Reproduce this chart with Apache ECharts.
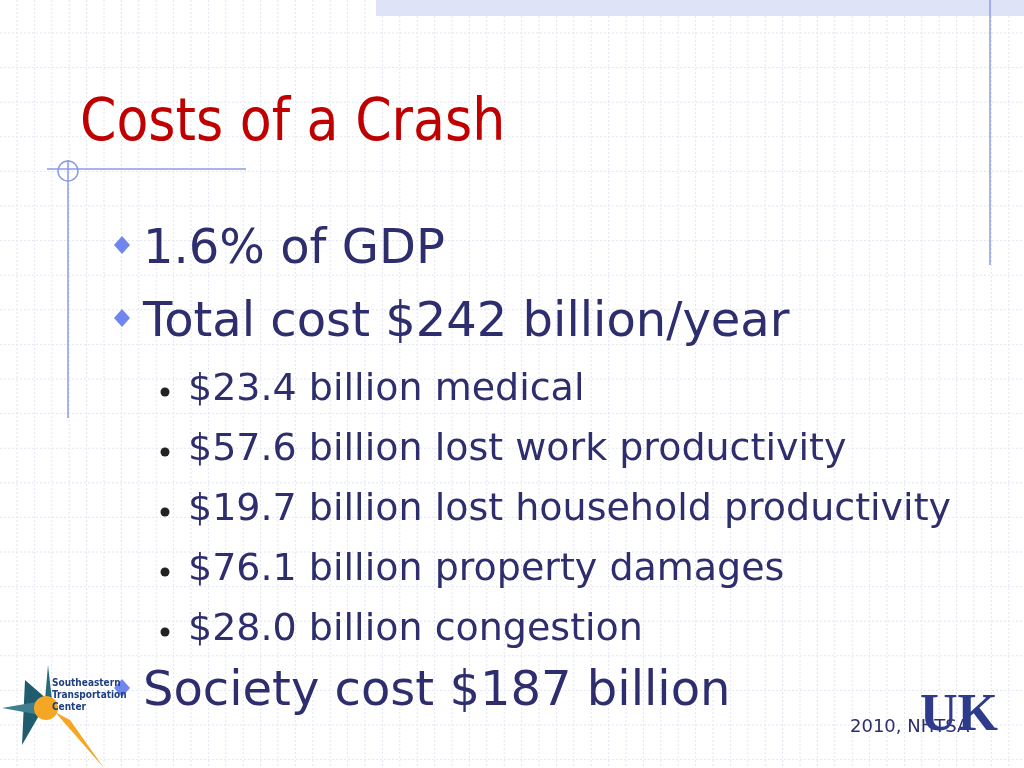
<!DOCTYPE html>
<html><head><meta charset="utf-8">
<script src="https://cdn.jsdelivr.net/npm/echarts@6/dist/echarts.min.js"></script>
<style>html,body{margin:0;padding:0;background:#fff}#c{width:1024px;height:768px}</style>
</head><body><div id="c"></div>
<script>
const title = "Costs of a Crash";
const mainBullets = ["1.6% of GDP", "Total cost $242 billion/year"];
const subValues = ["$23.4", "$57.6", "$19.7", "$76.1", "$28.0"];
const subLabels = ["billion medical", "billion lost work productivity", "billion lost household productivity", "billion property damages", "billion congestion"];
const lastBullet = "Society cost $187 billion";
const source = "2010, NHTSA";

const chart = echarts.init(document.getElementById('c'));
const g = [];
for (let x = 17; x < 1024; x += 17.4) g.push({type:'line', shape:{x1:x,y1:0,x2:x,y2:768}, style:{stroke:'#e3e6f2', lineWidth:1, lineDash:[2,2]}, silent:true});
for (let y = 33; y < 768; y += 34.6) g.push({type:'line', shape:{x1:0,y1:y,x2:1024,y2:y}, style:{stroke:'#e3e6f2', lineWidth:1, lineDash:[2,2]}, silent:true});
g.push({type:'rect', shape:{x:376,y:0,width:648,height:16}, style:{fill:'#dfe3f7'}});
g.push({type:'line', shape:{x1:990,y1:0,x2:990,y2:265}, style:{stroke:'#8c9ae6', lineWidth:1.5}});
g.push({type:'line', shape:{x1:68,y1:160,x2:68,y2:418}, style:{stroke:'#8c9ae6', lineWidth:1.5}});
g.push({type:'line', shape:{x1:47,y1:169,x2:246,y2:169}, style:{stroke:'#8c9ae6', lineWidth:1.5}});
g.push({type:'circle', shape:{cx:68,cy:171,r:10}, style:{fill:'none', stroke:'#8c9ae6', lineWidth:1.5}});
g.push({type:'text', x:80, y:125, style:{text:title, fill:'#c00000', font:'58px "DejaVu Sans Condensed", "DejaVu Sans"', textVerticalAlign:'middle'}});
const textColor = '#2e2e6e';
const font1 = '48px "DejaVu Sans"';
const font2 = '38px "DejaVu Sans"';
function diamond(cx, cy){ g.push({type:'polygon', shape:{points:[[cx,cy-9],[cx+8,cy],[cx,cy+9],[cx-8,cy]]}, style:{fill:'#6f86f0'}}); }
const mainY = [251, 324];
mainBullets.forEach((t,i)=>{
  diamond(122, mainY[i]-6);
  g.push({type:'text', x:143, y:mainY[i], style:{text:t, fill:textColor, font:font1, textVerticalAlign:'middle'}});
});
subLabels.forEach((t,i)=>{
  const y = 390 + i*60;
  g.push({type:'circle', shape:{cx:165, cy:y+2, r:4.5}, style:{fill:'#222'}});
  g.push({type:'text', x:188, y:y, style:{text:subValues[i]+' '+t, fill:textColor, font:font2, textVerticalAlign:'middle'}});
});
diamond(122, 688);
g.push({type:'text', x:143, y:693, style:{text:lastBullet, fill:textColor, font:font1, textVerticalAlign:'middle'}});
g.push({type:'polygon', shape:{points:[[25,680],[48,700],[22,745]]}, style:{fill:'#1f5d6e'}});
g.push({type:'polygon', shape:{points:[[2,708],[48,700],[40,715]]}, style:{fill:'#3f7f8f'}});
g.push({type:'polygon', shape:{points:[[55,712],[70,720],[104,768]]}, style:{fill:'#f5a623'}});
g.push({type:'polygon', shape:{points:[[48,665],[52,700],[45,700]]}, style:{fill:'#2a6b7b'}});
g.push({type:'circle', shape:{cx:46,cy:708,r:12}, style:{fill:'#f5a623'}});
g.push({type:'text', x:52, y:695, style:{text:'Southeastern\nTransportation\nCenter', fill:'#1f3f7f', font:'bold 10px "DejaVu Sans Condensed"', lineHeight:12, textVerticalAlign:'middle'}});
g.push({type:'text', x:850, y:727, style:{text:source, fill:textColor, font:'18px "DejaVu Sans"', textVerticalAlign:'middle'}});
g.push({type:'text', x:920, y:717, style:{text:'UK', fill:'#2e3a8c', font:'bold 52px "Liberation Serif"', textVerticalAlign:'middle'}});
chart.setOption({backgroundColor:'#ffffff', graphic:{elements:g}});
</script></body></html>
